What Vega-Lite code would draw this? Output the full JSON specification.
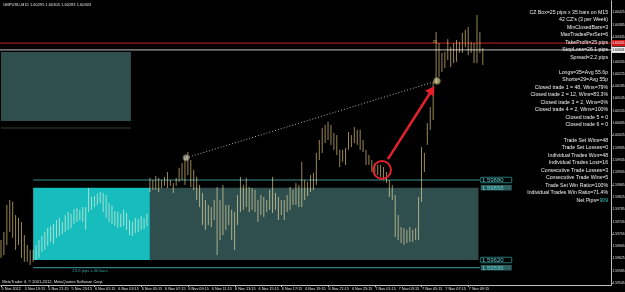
{
"$schema":"https://vega.github.io/schema/vega-lite/v6.json",
"width":611,"height":285,"autosize":{"type":"none"},"padding":{"left":0,"top":0,"right":14,"bottom":7},"background":"#000000",
"config":{"view":{"stroke":null},"font":"Liberation Sans","axis":{"domainColor":"#c0c0c0","tickColor":"#c0c0c0","grid":false,"title":null,"labels":false}},
"datasets":{
"bars":[
{"i":0,"h":1.59685,"l":1.59627},{"i":1,"h":1.59711,"l":1.59636},{"i":2,"h":1.59799,"l":1.59669},{"i":3,"h":1.59815,"l":1.59711},{"i":4,"h":1.59809,"l":1.59692},{"i":5,"h":1.59766,"l":1.59653},{"i":6,"h":1.59757,"l":1.59669},{"i":7,"h":1.59744,"l":1.59627},{"i":8,"h":1.59701,"l":1.59614},{"i":9,"h":1.59669,"l":1.59614},
{"i":10,"h":1.59653,"l":1.59604},{"i":11,"h":1.59653,"l":1.59614},{"i":12,"h":1.59669,"l":1.5962},{"i":13,"h":1.59685,"l":1.59627},{"i":14,"h":1.59698,"l":1.59646},{"i":15,"h":1.59711,"l":1.59653},{"i":16,"h":1.59724,"l":1.59666},{"i":17,"h":1.59731,"l":1.59679},{"i":18,"h":1.59737,"l":1.59672},{"i":19,"h":1.5975,"l":1.59692},
{"i":20,"h":1.59757,"l":1.59698},{"i":21,"h":1.59744,"l":1.59705},{"i":22,"h":1.59766,"l":1.59711},{"i":23,"h":1.59776,"l":1.59718},{"i":24,"h":1.5977,"l":1.59724},{"i":25,"h":1.59786,"l":1.59737},{"i":26,"h":1.59789,"l":1.59744},{"i":27,"h":1.59783,"l":1.5975},{"i":28,"h":1.59792,"l":1.59744},{"i":29,"h":1.59792,"l":1.59718},
{"i":30,"h":1.59854,"l":1.59776},{"i":31,"h":1.59825,"l":1.59783},{"i":32,"h":1.59828,"l":1.59792},{"i":33,"h":1.59835,"l":1.59799},{"i":34,"h":1.59841,"l":1.59805},{"i":35,"h":1.59838,"l":1.59776},{"i":36,"h":1.59831,"l":1.59757},{"i":37,"h":1.59805,"l":1.59744},{"i":38,"h":1.59796,"l":1.59737},{"i":39,"h":1.59779,"l":1.59731},
{"i":40,"h":1.59776,"l":1.59724},{"i":41,"h":1.5977,"l":1.59727},{"i":42,"h":1.59783,"l":1.59731},{"i":43,"h":1.59773,"l":1.59718},{"i":44,"h":1.5975,"l":1.59701},{"i":45,"h":1.59744,"l":1.59698},{"i":46,"h":1.59757,"l":1.59708},{"i":47,"h":1.59753,"l":1.59711},{"i":48,"h":1.59763,"l":1.59718},{"i":49,"h":1.59757,"l":1.59721},
{"i":50,"h":1.5977,"l":1.59731},{"i":51,"h":1.59887,"l":1.59841},{"i":52,"h":1.5988,"l":1.59848},{"i":53,"h":1.59893,"l":1.59848},{"i":54,"h":1.59887,"l":1.59841},{"i":55,"h":1.5988,"l":1.59854},{"i":56,"h":1.5989,"l":1.59861},{"i":57,"h":1.59906,"l":1.59854},{"i":58,"h":1.5988,"l":1.59861},{"i":59,"h":1.5987,"l":1.59838},
{"i":60,"h":1.59887,"l":1.59861},{"i":61,"h":1.59919,"l":1.59874},{"i":62,"h":1.59935,"l":1.5988},{"i":63,"h":1.59952,"l":1.59864},{"i":64,"h":1.59971,"l":1.59896},{"i":65,"h":1.59945,"l":1.59857},{"i":66,"h":1.59913,"l":1.59848},{"i":67,"h":1.5989,"l":1.59815},{"i":68,"h":1.59864,"l":1.59792},{"i":69,"h":1.59838,"l":1.59734},
{"i":70,"h":1.59815,"l":1.59718},{"i":71,"h":1.59799,"l":1.59734},{"i":72,"h":1.59792,"l":1.59727},{"i":73,"h":1.59815,"l":1.5975},{"i":74,"h":1.59857,"l":1.59636},{"i":75,"h":1.59815,"l":1.59685},{"i":76,"h":1.59864,"l":1.59701},{"i":77,"h":1.59799,"l":1.59718},{"i":78,"h":1.59799,"l":1.59734},{"i":79,"h":1.59783,"l":1.59685},
{"i":80,"h":1.59776,"l":1.59653},{"i":81,"h":1.59831,"l":1.59734},{"i":82,"h":1.5989,"l":1.59776},{"i":83,"h":1.59864,"l":1.59783},{"i":84,"h":1.59887,"l":1.59792},{"i":85,"h":1.59857,"l":1.59776},{"i":86,"h":1.59854,"l":1.59783},{"i":87,"h":1.59848,"l":1.59776},{"i":88,"h":1.59815,"l":1.59744},{"i":89,"h":1.59831,"l":1.59766},
{"i":90,"h":1.59825,"l":1.5976},{"i":91,"h":1.59815,"l":1.59776},{"i":92,"h":1.59848,"l":1.59783},{"i":93,"h":1.5989,"l":1.59773},{"i":94,"h":1.59838,"l":1.59783},{"i":95,"h":1.59825,"l":1.5975},{"i":96,"h":1.59815,"l":1.59766},{"i":97,"h":1.59815,"l":1.5975},{"i":98,"h":1.59831,"l":1.59776},{"i":99,"h":1.59857,"l":1.59783},
{"i":100,"h":1.59848,"l":1.59799},{"i":101,"h":1.5987,"l":1.59799},{"i":102,"h":1.59864,"l":1.59792},{"i":103,"h":1.59939,"l":1.59792},{"i":104,"h":1.5988,"l":1.59815},{"i":105,"h":1.59874,"l":1.59828},{"i":106,"h":1.59896,"l":1.59841},{"i":107,"h":1.59903,"l":1.59848},{"i":108,"h":1.59968,"l":1.59864},{"i":109,"h":1.6001,"l":1.59945},
{"i":110,"h":1.60049,"l":1.59968},{"i":111,"h":1.60059,"l":1.6},{"i":112,"h":1.60069,"l":1.6001},{"i":113,"h":1.60059,"l":1.59994},{"i":114,"h":1.60033,"l":1.59978},{"i":115,"h":1.60026,"l":1.59961},{"i":116,"h":1.59978,"l":1.59922},{"i":117,"h":1.59978,"l":1.59939},{"i":118,"h":1.59984,"l":1.59929},{"i":119,"h":1.60036,"l":1.59978},
{"i":120,"h":1.60026,"l":1.59987},{"i":121,"h":1.60052,"l":1.6},{"i":122,"h":1.60043,"l":1.59994},{"i":123,"h":1.60043,"l":1.59978},{"i":124,"h":1.6001,"l":1.59971},{"i":125,"h":1.59978,"l":1.59929},{"i":126,"h":1.59961,"l":1.59929},{"i":127,"h":1.59945,"l":1.59906},{"i":128,"h":1.59935,"l":1.59903},{"i":129,"h":1.59929,"l":1.59896},
{"i":130,"h":1.59929,"l":1.5989},{"i":131,"h":1.59922,"l":1.5988},{"i":132,"h":1.59906,"l":1.5987},{"i":133,"h":1.5988,"l":1.59825},{"i":134,"h":1.59864,"l":1.59815},{"i":135,"h":1.59831,"l":1.59695},{"i":136,"h":1.59766,"l":1.59685},{"i":137,"h":1.59727,"l":1.59675},{"i":138,"h":1.59724,"l":1.59669},{"i":139,"h":1.59718,"l":1.59675},
{"i":140,"h":1.59727,"l":1.59679},{"i":141,"h":1.59718,"l":1.59679},{"i":142,"h":1.59724,"l":1.59685},{"i":143,"h":1.59825,"l":1.59685},{"i":144,"h":1.59987,"l":1.59809},{"i":145,"h":1.59968,"l":1.59906},{"i":146,"h":1.60065,"l":1.59994},{"i":147,"h":1.60117,"l":1.60043},{"i":148,"h":1.60199,"l":1.60075},{"i":149,"h":1.60361,"l":1.60195},
{"i":150,"h":1.60325,"l":1.60215},{"i":151,"h":1.60293,"l":1.60231},{"i":152,"h":1.60296,"l":1.60244},{"i":153,"h":1.60338,"l":1.6027},{"i":154,"h":1.60312,"l":1.60247},{"i":155,"h":1.60325,"l":1.6026},{"i":156,"h":1.60335,"l":1.60264},{"i":157,"h":1.60329,"l":1.60293},{"i":158,"h":1.60358,"l":1.60293},{"i":159,"h":1.60368,"l":1.60312},
{"i":160,"h":1.60377,"l":1.60286},{"i":161,"h":1.60329,"l":1.60293},{"i":162,"h":1.60325,"l":1.6026},{"i":163,"h":1.60416,"l":1.6026},{"i":164,"h":1.60361,"l":1.60293},{"i":165,"h":1.60309,"l":1.60254}
],
"datelabels":[
{"i":0,"t":"5 Nov 2012"},{"i":8,"t":"5 Nov 19:15"},{"i":16,"t":"5 Nov 21:15"},{"i":24,"t":"5 Nov 23:15"},{"i":32,"t":"6 Nov 01:15"},{"i":40,"t":"6 Nov 03:15"},{"i":48,"t":"6 Nov 05:15"},{"i":56,"t":"6 Nov 07:15"},{"i":64,"t":"6 Nov 09:15"},{"i":72,"t":"6 Nov 11:15"},{"i":80,"t":"6 Nov 13:15"},{"i":88,"t":"6 Nov 15:15"},{"i":96,"t":"6 Nov 17:15"},{"i":104,"t":"6 Nov 19:15"},{"i":112,"t":"6 Nov 21:15"},{"i":120,"t":"6 Nov 23:15"},{"i":128,"t":"7 Nov 01:15"},{"i":136,"t":"7 Nov 03:15"},{"i":144,"t":"7 Nov 05:15"},{"i":152,"t":"7 Nov 07:15"},{"i":160,"t":"7 Nov 09:15"}
],
"pricelabels":[
{"p":1.60425,"t":"1.60425"},{"p":1.60385,"t":"1.60385"},{"p":1.60345,"t":"1.60345"},{"p":1.60265,"t":"1.60265"},{"p":1.60225,"t":"1.60225"},{"p":1.60185,"t":"1.60185"},{"p":1.60145,"t":"1.60145"},{"p":1.60105,"t":"1.60105"},{"p":1.60065,"t":"1.60065"},{"p":1.60025,"t":"1.60025"},{"p":1.59985,"t":"1.59985"},{"p":1.59945,"t":"1.59945"},{"p":1.59905,"t":"1.59905"},{"p":1.59865,"t":"1.59865"},{"p":1.59825,"t":"1.59825"},{"p":1.59785,"t":"1.59785"},{"p":1.59745,"t":"1.59745"},{"p":1.59705,"t":"1.59705"},{"p":1.59665,"t":"1.59665"},{"p":1.59625,"t":"1.59625"},{"p":1.59585,"t":"1.59585"},{"p":1.59545,"t":"1.59545"}
]},
"layer":[
{"layer":[
 {"data":{"values":[{"x1":0,"x2":44.5,"p1":1.60296,"p2":1.60072}]},
  "mark":{"type":"rect","color":"#2F4F4F"},
  "encoding":{
   "x":{"field":"x1","type":"quantitative","scale":{"domain":[-0.342,208.9],"nice":false,"zero":false},
        "axis":{"orient":"bottom","values":[0,8,16,24,32,40,48,56,64,72,80,88,96,104,112,120,128,136,144,152,160],"tickSize":1.5}},
   "x2":{"field":"x2"},
   "y":{"field":"p1","type":"quantitative","scale":{"domain":[1.595388,1.60465],"nice":false,"zero":false},
        "axis":{"orient":"right","values":[1.60425,1.60385,1.60345,1.60305,1.60265,1.60225,1.60185,1.60145,1.60105,1.60065,1.60025,1.59985,1.59945,1.59905,1.59865,1.59825,1.59785,1.59745,1.59705,1.59665,1.59625,1.59585,1.59545],"tickSize":1.2}},
   "y2":{"field":"p2"}}},
 {"data":{"values":[{"x1":11,"x2":51,"p1":1.59855,"p2":1.5962}]},
  "mark":{"type":"rect","color":"#17BDBD"},
  "encoding":{"x":{"field":"x1","type":"quantitative"},"x2":{"field":"x2"},"y":{"field":"p1","type":"quantitative"},"y2":{"field":"p2"}}},
 {"data":{"values":[{"x1":51,"x2":163.5,"p1":1.59855,"p2":1.5962}]},
  "mark":{"type":"rect","color":"#2F4F4F"},
  "encoding":{"x":{"field":"x1","type":"quantitative"},"x2":{"field":"x2"},"y":{"field":"p1","type":"quantitative"},"y2":{"field":"p2"}}},
 {"data":{"values":[
   {"name":"tp","x1":-0.342,"x2":208.9,"p":1.60325},
   {"name":"bid","x1":-0.342,"x2":208.9,"p":1.60303},
   {"name":"old","x1":0,"x2":44.5,"p":1.60049},
   {"name":"top","x1":11,"x2":164,"p":1.5988},
   {"name":"bot","x1":11,"x2":164,"p":1.59595}]},
  "mark":{"type":"rule","strokeWidth":1.2},
  "encoding":{"x":{"field":"x1","type":"quantitative"},"x2":{"field":"x2"},"y":{"field":"p","type":"quantitative"},
   "color":{"field":"name","type":"nominal","legend":null,"scale":{"domain":["tp","bid","old","top","bot"],"range":["#9a1c1c","#9a9a9a","#3a3a3a","#3a9090","#2f8080"]}}}},
 {"data":{"name":"bars"},
  "mark":{"type":"rule","color":"#9a8850","strokeWidth":1,"blend":"screen"},
  "encoding":{"x":{"field":"i","type":"quantitative"},"y":{"field":"h","type":"quantitative"},"y2":{"field":"l"}}},
 {"data":{"values":[{"i":63.4,"p":1.59952},{"i":149.3,"p":1.60202}]},
  "mark":{"type":"line","color":"#b8b8a8","strokeWidth":1,"strokeDash":[1,2]},
  "encoding":{"x":{"field":"i","type":"quantitative"},"y":{"field":"p","type":"quantitative"}}},
 {"data":{"values":[{"i":63.4,"p":1.59952}]},
  "mark":{"type":"point","shape":"circle","filled":true,"size":40,"color":"#d0d0c0","stroke":"#7a7a6a","strokeWidth":1},
  "encoding":{"x":{"field":"i","type":"quantitative"},"y":{"field":"p","type":"quantitative"}}},
 {"data":{"values":[{"i":149.3,"p":1.60202}]},
  "mark":{"type":"point","shape":"circle","filled":true,"size":45,"color":"#e8e0a0","stroke":"#8a8050","strokeWidth":1},
  "encoding":{"x":{"field":"i","type":"quantitative"},"y":{"field":"p","type":"quantitative"}}},
 {"data":{"values":[{"i":132.5,"p":1.59948},{"i":147.5,"p":1.60171}]},
  "mark":{"type":"line","color":"#e3212b","strokeWidth":2.5},
  "encoding":{"x":{"field":"i","type":"quantitative"},"y":{"field":"p","type":"quantitative"}}},
 {"data":{"values":[{"i":147.6,"p":1.60173}]},
  "mark":{"type":"point","shape":"triangle-up","filled":true,"size":110,"angle":33,"color":"#e3212b","opacity":1},
  "encoding":{"x":{"field":"i","type":"quantitative"},"y":{"field":"p","type":"quantitative"}}},
 {"data":{"values":[{"i":130.5,"p":1.59913}]},
  "mark":{"type":"point","shape":"circle","filled":false,"size":314,"color":"#e3212b","strokeWidth":2,"opacity":1},
  "encoding":{"x":{"field":"i","type":"quantitative"},"y":{"field":"p","type":"quantitative"}}},
 {"data":{"values":[{"i":148.6,"p":1.60329,"t":"25"}]},
  "mark":{"type":"text","color":"#d8c850","fontSize":4,"baseline":"middle","align":"center"},
  "encoding":{"x":{"field":"i","type":"quantitative"},"y":{"field":"p","type":"quantitative"},"text":{"field":"t"}}},
 {"data":{"values":[{"x1":164.3,"x2":174.9,"p1":1.59864,"p2":1.59846},{"x1":164.3,"x2":174.9,"p1":1.59604,"p2":1.59586}]},
  "mark":{"type":"rect","color":"#2F5F5F"},
  "encoding":{"x":{"field":"x1","type":"quantitative"},"x2":{"field":"x2"},"y":{"field":"p1","type":"quantitative"},"y2":{"field":"p2"}}},
 {"data":{"values":[{"x1":164.3,"x2":174.9,"p1":1.59889,"p2":1.59871},{"x1":164.3,"x2":174.9,"p1":1.59629,"p2":1.59611}]},
  "mark":{"type":"rect","fill":null,"stroke":"#2f8f8f","strokeWidth":0.8,"filled":false},
  "encoding":{"x":{"field":"x1","type":"quantitative"},"x2":{"field":"x2"},"y":{"field":"p1","type":"quantitative"},"y2":{"field":"p2"}}},
 {"data":{"values":[{"i":164.7,"p":1.5988,"t":"1.59880"},{"i":164.7,"p":1.59855,"t":"1.59855"},{"i":164.7,"p":1.5962,"t":"1.59620"},{"i":164.7,"p":1.59595,"t":"1.59595"}]},
  "mark":{"type":"text","color":"#5fd0d0","fontSize":6,"align":"left","baseline":"middle"},
  "encoding":{"x":{"field":"i","type":"quantitative"},"y":{"field":"p","type":"quantitative"},"text":{"field":"t"}}},
 {"data":{"values":[{"i":30.5,"p":1.59584,"t":"23.5 pips x 40 bars"}]},
  "mark":{"type":"text","color":"#2fa0a0","fontSize":4.2,"align":"center","baseline":"middle"},
  "encoding":{"x":{"field":"i","type":"quantitative"},"y":{"field":"p","type":"quantitative"},"text":{"field":"t"}}},
 {"data":{"name":"pricelabels"},
  "mark":{"type":"text","color":"#e0e0e0","fontSize":3.4,"align":"left","baseline":"middle","dx":1.5},
  "encoding":{"x":{"datum":208.9,"type":"quantitative"},"y":{"field":"p","type":"quantitative"},"text":{"field":"t"}}},
 {"data":{"name":"datelabels"},
  "mark":{"type":"text","color":"#e0e0e0","fontSize":3.8,"align":"left","baseline":"top","dx":0.5,"dy":2},
  "encoding":{"x":{"field":"i","type":"quantitative"},"y":{"datum":1.595388,"type":"quantitative"},"text":{"field":"t"}}},
 {"data":{"values":[{"x1":209.1,"x2":214,"p1":1.60335,"p2":1.60315}]},
  "mark":{"type":"rect","color":"#d01818"},
  "encoding":{"x":{"field":"x1","type":"quantitative"},"x2":{"field":"x2"},"y":{"field":"p1","type":"quantitative"},"y2":{"field":"p2"}}},
 {"data":{"values":[{"x1":209.1,"x2":214,"p1":1.60313,"p2":1.60293}]},
  "mark":{"type":"rect","color":"#f0f0f0"},
  "encoding":{"x":{"field":"x1","type":"quantitative"},"x2":{"field":"x2"},"y":{"field":"p1","type":"quantitative"},"y2":{"field":"p2"}}},
 {"data":{"values":[{"i":209.3,"p":1.60325,"t":"1.60325"}]},
  "mark":{"type":"text","color":"#ffffff","fontSize":3.4,"align":"left","baseline":"middle"},
  "encoding":{"x":{"field":"i","type":"quantitative"},"y":{"field":"p","type":"quantitative"},"text":{"field":"t"}}},
 {"data":{"values":[{"i":209.3,"p":1.60303,"t":"1.60303"}]},
  "mark":{"type":"text","color":"#000000","fontSize":3.4,"align":"left","baseline":"middle"},
  "encoding":{"x":{"field":"i","type":"quantitative"},"y":{"field":"p","type":"quantitative"},"text":{"field":"t"}}},
 {"data":{"values":[{"i":0.7,"p":1.60449,"t":"GBPUSD,M15  1.60295 1.60305 1.60283 1.60303"},{"i":0.4,"p":1.59548,"t":"MetaTrader 4, © 2001-2012, MetaQuotes Software Corp."}]},
  "mark":{"type":"text","color":"#e0e0e0","fontSize":4,"align":"left","baseline":"middle"},
  "encoding":{"x":{"field":"i","type":"quantitative"},"y":{"field":"p","type":"quantitative"},"text":{"field":"t"}}}
]},
{"layer":[
 {"data":{"values":[
  {"row":0,"t":"CZ Box=25 pips x 35 bars on M15"},
  {"row":1,"t":"42 CZ's (3 per Week)"},
  {"row":2,"t":"MinClosedBars=3"},
  {"row":3,"t":"MaxTradesPerSet=6"},
  {"row":4,"t":"TakeProfit=25 pips"},
  {"row":5,"t":"StopLoss=26.1 pips"},
  {"row":6,"t":"Spread=2.2 pips"},
  {"row":8,"t":"Longs=35=Avg 55.6p"},
  {"row":9,"t":"Shorts=29=Avg 55p"},
  {"row":10,"t":"Closed trade 1 = 48, Wins=79%"},
  {"row":11,"t":"Closed trade 2 = 12, Wins=83.3%"},
  {"row":12,"t":"Closed trade 3 = 2, Wins=0%"},
  {"row":13,"t":"Closed trade 4 = 2, Wins=100%"},
  {"row":14,"t":"Closed trade 5 = 0"},
  {"row":15,"t":"Closed trade 6 = 0"},
  {"row":17,"t":"Trade Set Wins=48"},
  {"row":18,"t":"Trade Set Losses=0"},
  {"row":19,"t":"Individual Trades Won=48"},
  {"row":20,"t":"Individual Trades Lost=16"},
  {"row":21,"t":"Consecutive Trade Losses=3"},
  {"row":22,"t":"Consecutive Trade Wins=5"},
  {"row":23,"t":"Trade Set Win Ratio=100%"},
  {"row":24,"t":"Individual Trades Win Ratio=71.4%"}]},
  "mark":{"type":"text","color":"#eeeeee","fontSize":5.2,"align":"right","baseline":"middle"},
  "encoding":{"x":{"datum":207.9,"type":"quantitative"},
   "y":{"field":"row","type":"quantitative","scale":{"domain":[-1.556,36.35],"reverse":true,"nice":false,"zero":false},"axis":null},
   "text":{"field":"t"}}},
 {"data":{"values":[{"row":25,"t":"Net Pips="}]},
  "mark":{"type":"text","color":"#eeeeee","fontSize":5.2,"align":"right","baseline":"middle"},
  "encoding":{"x":{"datum":204.8,"type":"quantitative"},"y":{"field":"row","type":"quantitative"},"text":{"field":"t"}}},
 {"data":{"values":[{"row":25,"t":"909"}]},
  "mark":{"type":"text","color":"#2fc8b8","fontSize":5.2,"align":"right","baseline":"middle"},
  "encoding":{"x":{"datum":207.9,"type":"quantitative"},"y":{"field":"row","type":"quantitative"},"text":{"field":"t"}}}
]}
],
"resolve":{"scale":{"y":"independent"}}
}
